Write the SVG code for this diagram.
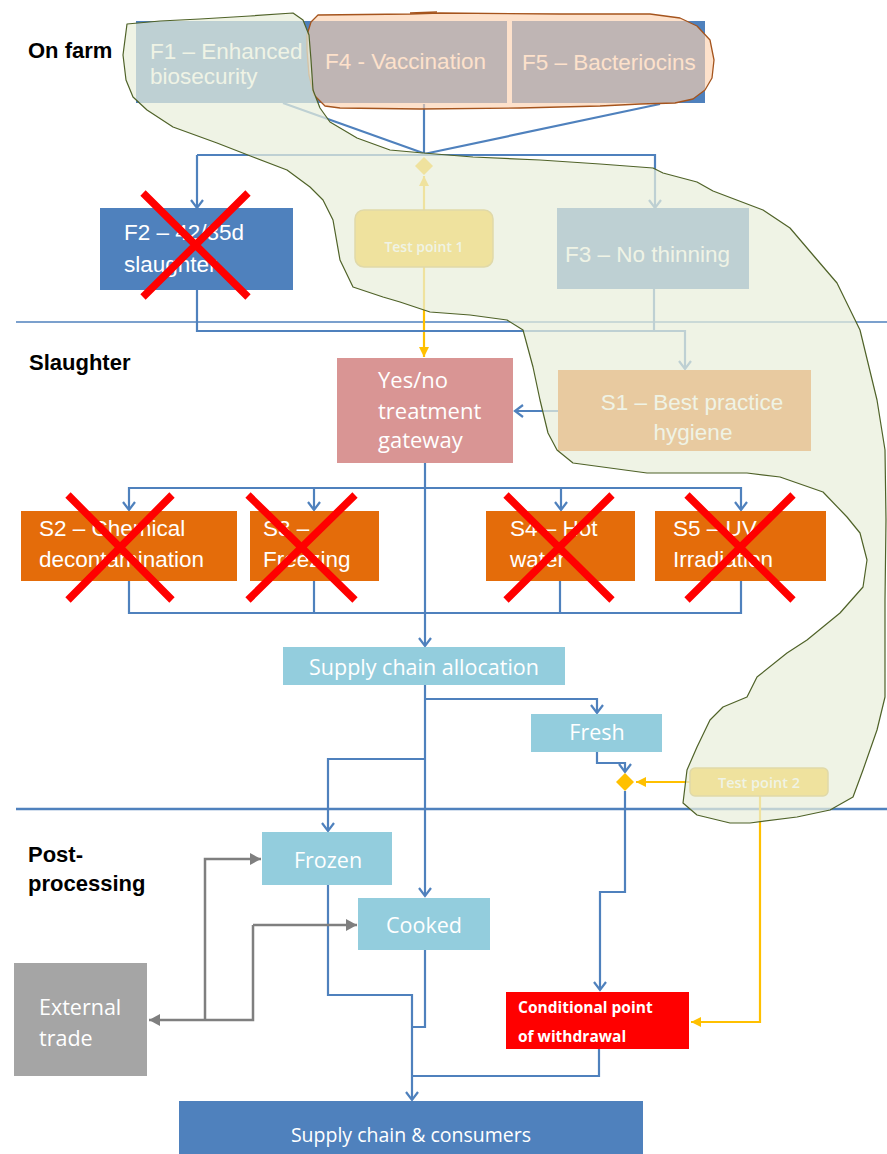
<svg xmlns="http://www.w3.org/2000/svg" width="887" height="1154" viewBox="0 0 887 1154">
<style>
.a{font-family:"Liberation Sans",Arial,sans-serif;font-size:22.5px;fill:#ffffff}
.c{font-family:"Open Sans","Liberation Sans",sans-serif;font-size:21.5px;fill:#ffffff}
.lbl{font-family:"Liberation Sans",Arial,sans-serif;font-size:22px;font-weight:bold;fill:#000000}
.mid{text-anchor:middle}
.cn{fill:none;stroke:#4f81bd;stroke-width:2.2}
.cy{fill:none;stroke:#ffc000;stroke-width:2.2}
.cg{fill:none;stroke:#7f7f7f;stroke-width:2.5}
.x{stroke:#ff0000;stroke-width:7.5}
.blue{fill:#4f81bd}
.orange{fill:#e46c0a}
.lb{fill:#93cddd}
</style>
<defs>
<marker id="ab" viewBox="-11 -8 13 16" refX="0" refY="0" markerWidth="13" markerHeight="16" markerUnits="userSpaceOnUse" orient="auto"><path d="M-8,-6 L0,0 L-8,6" fill="none" stroke="#4f81bd" stroke-width="2.2"/></marker>
<marker id="ay" viewBox="-11 -6 12 12" refX="0" refY="0" markerWidth="12" markerHeight="12" markerUnits="userSpaceOnUse" orient="auto"><path d="M-10,-5 L0,0 L-10,5 Z" fill="#ffc000"/></marker>
<marker id="ag" viewBox="-12 -7 13 14" refX="0" refY="0" markerWidth="13" markerHeight="14" markerUnits="userSpaceOnUse" orient="auto"><path d="M-11,-6 L0,0 L-11,6 Z" fill="#7f7f7f"/></marker>
</defs>
<rect width="887" height="1154" fill="#ffffff"/>

<g id="dividers">
<line x1="16" y1="322" x2="887" y2="322" stroke="#4f81bd" stroke-width="1.6"/>
<line x1="16" y1="809" x2="887" y2="809" stroke="#4f81bd" stroke-width="2.6"/>
</g>

<g id="lane-labels">
<text class="lbl" x="28" y="58">On farm</text>
<text class="lbl" x="29" y="370">Slaughter</text>
<text class="lbl" x="28" y="862">Post-</text>
<text class="lbl" x="28" y="891">processing</text>
</g>

<g id="connectors">
<path class="cn" d="M283,103 L423,153" stroke-width="2.6"/>
<path class="cn" d="M424,104 L424,153" stroke-width="2.6"/>
<path class="cn" d="M660,104 L424,154" stroke-width="2.6" stroke="#3a78c2"/>
<path class="cn" d="M424,155 L197,155" stroke="#a9c0dc" stroke-width="1.8"/>
<path class="cn" d="M197,155 L197,208" marker-end="url(#ab)"/>
<path class="cn" d="M424,155 L655,155 L655,208" marker-end="url(#ab)"/>
<path class="cy" d="M424,210 L424,176" marker-end="url(#ay)"/>
<path class="cy" d="M424,267 L424,357" marker-end="url(#ay)"/>
<path class="cn" d="M197,290 L197,331 L685,331 L685,369" marker-end="url(#ab)"/>
<path class="cn" d="M654,289 L654,331"/>
<path class="cn" d="M558,411 L515,411" marker-end="url(#ab)"/>
<path class="cn" d="M425,463 L425,646" stroke-width="2.8" marker-end="url(#ab)"/>
<path class="cn" d="M425,488 L129,488 L129,510" marker-end="url(#ab)"/>
<path class="cn" d="M425,488 L741,488 L741,510" marker-end="url(#ab)"/>
<path class="cn" d="M314,488 L314,510" marker-end="url(#ab)"/>
<path class="cn" d="M561,488 L561,510" marker-end="url(#ab)"/>
<path class="cn" d="M129,581 L129,613 L741,613 L741,581"/>
<path class="cn" d="M314,581 L314,613"/>
<path class="cn" d="M560,581 L560,613"/>
<path class="cn" d="M425,685 L425,896" stroke-width="2.4" marker-end="url(#ab)"/>
<path class="cn" d="M425,699 L597,699 L597,713" marker-end="url(#ab)"/>
<path class="cn" d="M425,759 L328,759 L328,831" marker-end="url(#ab)"/>
<path class="cn" d="M597,752 L597,763 L625,763 L625,772" marker-end="url(#ab)"/>
<path class="cn" d="M625,791 L625,892 L600,892 L600,990" marker-end="url(#ab)"/>
<path class="cy" d="M690,782 L636,782" marker-end="url(#ay)"/>
<path class="cy" d="M760,796 L760,1022 L691,1022" marker-end="url(#ay)"/>
<path class="cn" d="M328,885 L328,995 L412,995 L412,1100" marker-end="url(#ab)"/>
<path class="cn" d="M425,950 L425,1027 L412,1027"/>
<path class="cn" d="M599,1049 L599,1076 L412,1076"/>
<path class="cg" d="M253,925 L253,1020 L149,1020" marker-end="url(#ag)"/>
<path class="cg" d="M205,1020 L205,859 L261,859" marker-end="url(#ag)"/>
<path class="cg" d="M253,925 L357,925" marker-end="url(#ag)"/>
<polygon points="424,157 433,166 424,175 415,166" fill="#ffc000"/>
<polygon points="625,773 634,782 625,791 616,782" fill="#ffc000"/>
</g>

<g id="F1">
<rect class="blue" x="136" y="21" width="181" height="82"/>
<text class="a" x="150" y="59">F1 – Enhanced</text>
<text class="a" x="150" y="84">biosecurity</text>
</g>
<g id="F4">
<rect class="blue" x="317" y="21" width="190" height="82"/>
<text class="a" x="325" y="69">F4 - Vaccination</text>
</g>
<g id="F5">
<rect class="blue" x="512" y="21" width="193" height="82"/>
<text class="a" x="522" y="70">F5 – Bacteriocins</text>
</g>
<g id="F2">
<rect class="blue" x="100" y="208" width="193" height="82"/>
<text class="a" x="124" y="240">F2 – 42/35d</text>
<text class="a" x="124" y="272">slaughter</text>
</g>
<g id="test-point-1">
<rect x="355" y="210" width="138" height="57" rx="9" fill="#ffc000" stroke="#c9a227" stroke-width="1.5"/>
<text class="c mid" x="424" y="252" style="font-size:14px;font-weight:600">Test point 1</text>
</g>
<g id="F3">
<rect class="blue" x="557" y="208" width="192" height="81"/>
<text class="a" x="565" y="262">F3 – No thinning</text>
</g>
<g id="gateway">
<rect x="337" y="358" width="176" height="105" fill="#d99594"/>
<text class="c" x="378" y="388" style="font-size:22px">Yes/no</text>
<text class="c" x="378" y="419" style="font-size:22px">treatment</text>
<text class="c" x="378" y="448" style="font-size:22px">gateway</text>
</g>
<g id="S1">
<rect class="orange" x="558" y="370" width="253" height="81"/>
<text class="a mid" x="692" y="410">S1 – Best practice</text>
<text class="a mid" x="693" y="440">hygiene</text>
</g>
<g id="S2">
<rect class="orange" x="21" y="511" width="216" height="70"/>
<text class="a" x="39" y="536">S2 – Chemical</text>
<text class="a" x="39" y="567">decontamination</text>
</g>
<g id="S3">
<rect class="orange" x="250" y="511" width="129" height="70"/>
<text class="a" x="263" y="536">S3 –</text>
<text class="a" x="263" y="567">Freezing</text>
</g>
<g id="S4">
<rect class="orange" x="486" y="511" width="149" height="70"/>
<text class="a" x="510" y="536">S4 – Hot</text>
<text class="a" x="510" y="567">water</text>
</g>
<g id="S5">
<rect class="orange" x="655" y="511" width="171" height="70"/>
<text class="a" x="673" y="536">S5 – UV</text>
<text class="a" x="673" y="567">Irradiation</text>
</g>
<g id="supply-chain-allocation">
<rect class="lb" x="283" y="647" width="282" height="38"/>
<text class="c mid" x="424" y="675">Supply chain allocation</text>
</g>
<g id="fresh">
<rect class="lb" x="531" y="714" width="131" height="38"/>
<text class="c mid" x="597" y="740">Fresh</text>
</g>
<g id="test-point-2">
<rect x="690" y="768" width="138" height="28" rx="5" fill="#ffc000" stroke="#c9a227" stroke-width="1.5"/>
<text class="c mid" x="759" y="788" style="font-size:14.5px;font-weight:600">Test point 2</text>
</g>
<g id="frozen">
<rect class="lb" x="262" y="832" width="130" height="53"/>
<text class="c mid" x="328" y="868">Frozen</text>
</g>
<g id="cooked">
<rect class="lb" x="358" y="898" width="132" height="52"/>
<text class="c mid" x="424" y="933">Cooked</text>
</g>
<g id="external-trade">
<rect x="14" y="963" width="133" height="113" fill="#a5a5a5"/>
<text class="c" x="39" y="1015">External</text>
<text class="c" x="39" y="1046">trade</text>
</g>
<g id="conditional-withdrawal">
<rect x="506" y="992" width="183" height="57" fill="#ff0000"/>
<text class="c" x="518" y="1013" style="font-size:15.5px;font-weight:bold">Conditional point</text>
<text class="c" x="518" y="1042" style="font-size:15.5px;font-weight:bold">of withdrawal</text>
</g>
<g id="supply-chain-consumers">
<rect class="blue" x="179" y="1101" width="464" height="53"/>
<text class="c mid" x="411" y="1142" style="font-size:19.5px">Supply chain &amp; consumers</text>
</g>

<g id="highlight-f4-f5">
<path d="M318,15 L410,14 L440,13 L560,14 L650,14 L680,18 L697,26 L710,40 L714,60 L712,78 L705,90 L693,99 L675,103 L640,104 L600,106 L520,108 L420,109 L340,108 L325,106 L314,95 L309,75 L307,50 L307,35 L311,22 Z" fill="#fcd1af" fill-opacity="0.65" stroke="#a5541d" stroke-width="1.3" stroke-linejoin="round"/>
<path d="M410,13 L437,12" fill="none" stroke="#a5541d" stroke-width="1.3"/>
</g>

<g id="highlight-green">
<path d="M127,24 L160,21 L200,19 L250,16 L293,13 L303,20 L309,35 L311,60 L313,90 L320,108 L330,122 L357,138 L390,150 L423,153 L473,157 L540,160 L600,164 L653,168 L663,173 L697,182 L713,191 L763,210 L790,228 L813,255 L837,283 L860,330 L877,400 L885,450 L886,520 L885,600 L885,697 L877,730 L863,770 L853,797 L830,810 L797,817 L750,823 L730,823 L697,815 L683,803 L687,770 L697,747 L710,720 L723,707 L747,697 L757,677 L787,653 L807,640 L840,613 L863,587 L867,560 L860,533 L847,517 L823,492 L780,477 L747,473 L647,473 L573,463 L557,450 L548,433 L540,400 L533,367 L523,330 L507,320 L470,315 L430,312 L400,302 L383,297 L353,287 L340,260 L333,220 L323,200 L310,187 L287,170 L253,157 L217,143 L173,127 L147,110 L133,97 L126,80 L123,55 Z" fill="#e9eedb" fill-opacity="0.72" stroke="#4f6228" stroke-width="1.2" stroke-linejoin="round"/>
</g>

<g id="crosses">
<path class="x" d="M143,193 L248,297 M248,193 L143,297"/>
<path class="x" d="M68,495 L172,600 M172,495 L68,600"/>
<path class="x" d="M248,495 L355,600 M355,495 L248,600"/>
<path class="x" d="M506,495 L612,600 M612,495 L506,600"/>
<path class="x" d="M687,495 L793,600 M793,495 L687,600"/>
</g>
</svg>
